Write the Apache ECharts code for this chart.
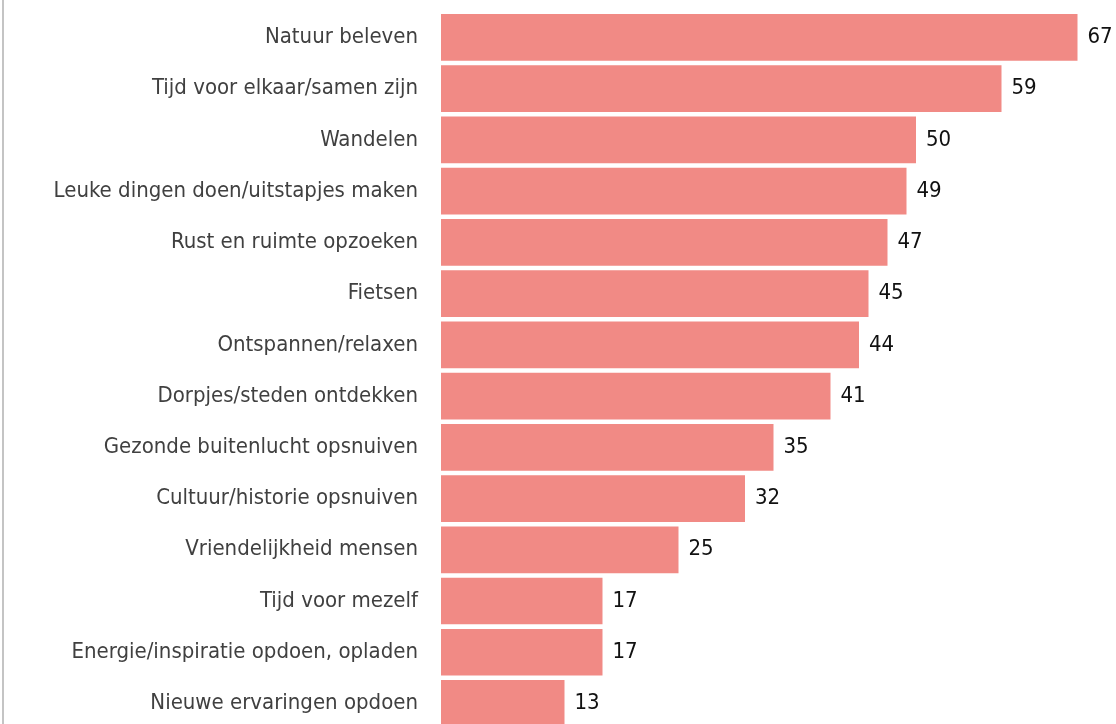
<!DOCTYPE html>
<html>
<head>
<meta charset="utf-8">
<script src="https://cdn.jsdelivr.net/npm/echarts@6/dist/echarts.min.js"></script>
<style>
  html, body { margin: 0; padding: 0; background: #fff; overflow: hidden; }
  /* de grafiek loopt onderaan iets door buiten beeld */
  #chart { width: 1116px; height: 730px; }
</style>
</head>
<body>
<div id="chart"></div>
<script>
// categorieen, van boven naar beneden
var categories = [
    'Natuur beleven',
    'Tijd voor elkaar/samen zijn',
    'Wandelen',
    'Leuke dingen doen/uitstapjes maken',
    'Rust en ruimte opzoeken',
    'Fietsen',
    'Ontspannen/relaxen',
    'Dorpjes/steden ontdekken',
    'Gezonde buitenlucht opsnuiven',
    'Cultuur/historie opsnuiven',
    'Vriendelijkheid mensen',
    'Tijd voor mezelf',
    'Energie/inspiratie opdoen, opladen',
    'Nieuwe ervaringen opdoen'
];
var values = [67, 59, 50, 49, 47, 45, 44, 41, 35, 32, 25, 17, 17, 13];

var labelFont = "'Liberation Sans Narrow', 'DejaVu Sans Condensed', 'Roboto', sans-serif";

var chart = echarts.init(document.getElementById('chart'));
chart.setOption({
    animation: false,
    grid: {
        left: 441,
        right: 10,
        top: 11.8,
        bottom: 0.9
    },
    // grijze lijn links
    graphic: [{
        type: 'rect',
        shape: { x: 2, y: 0, width: 2, height: 730 },
        style: { fill: '#c4c4c4' }
    }],
    xAxis: {
        type: 'value',
        min: 0,
        max: 70,
        show: false
    },
    yAxis: {
        type: 'category',
        inverse: true,
        data: categories,
        axisLine: { show: false },
        axisTick: { show: false },
        axisLabel: {
            margin: 23,
            color: '#404040',
            fontSize: 22,
            fontFamily: labelFont
        }
    },
    series: [{
        type: 'bar',
        data: values,
        barCategoryGap: '8.8%',
        itemStyle: { color: '#f18a85' },
        label: {
            show: true,
            position: 'right',
            distance: 10,
            color: '#111',
            fontSize: 22,
            fontFamily: labelFont
        }
    }]
});
</script>
</body>
</html>
